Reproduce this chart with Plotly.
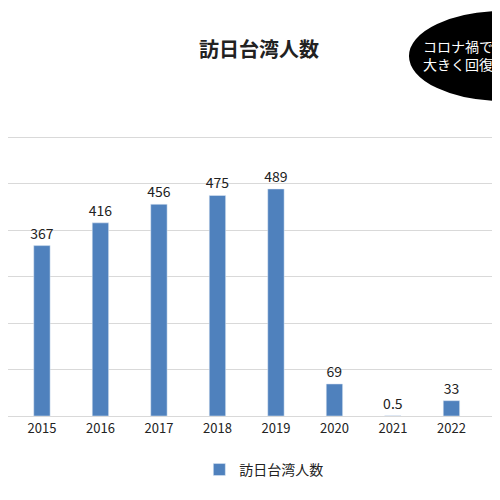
import plotly.graph_objects as go

years = [2014, 2015, 2016, 2017, 2018, 2019, 2020, 2021, 2022, 2023]
visitors = [283, 367, 416, 456, 475, 489, 69, 0.5, 33, 420]
labels = ["283", "367", "416", "456", "475", "489", "69", "0.5", "33", "420"]

fig = go.Figure()
fig.add_trace(go.Bar(
    x=years, y=visitors, name="訪日台湾人数", width=0.28,
    marker_color="#4F81BD", text=labels, textposition="outside",
    constraintext="none",
    textfont=dict(size=14, color="#222"), cliponaxis=False,
))
fig.update_layout(
    width=492, height=492,
    margin=dict(l=0, r=0, t=83, b=84),
    paper_bgcolor="white", plot_bgcolor="white",
    font=dict(family="Noto Sans CJK JP", color="#333"),
    title=dict(text="<b>訪日台湾人数</b>", x=0.51, xanchor="center", y=0.915, yanchor="middle",
               font=dict(size=20, color="#222")),
    xaxis=dict(range=[2014.42, 2022.83], tickmode="array", tickvals=years,
               ticktext=[str(y) for y in years], tickfont=dict(size=13, color="#222"),
               showgrid=False, showline=True, linecolor="#d9d9d9", ticks=""),
    yaxis=dict(range=[0, 700], dtick=100, showticklabels=False,
               gridcolor="#d9d9d9", zeroline=False),
    showlegend=True,
    legend=dict(orientation="h", x=0.52, xanchor="center", y=-0.166, yanchor="middle",
                font=dict(size=14, color="#222")),
)
fig.add_shape(type="circle", xref="paper", yref="paper",
              x0=0.817, x1=1.2, y0=0.972, y1=1.243,
              fillcolor="black", line=dict(color="black"))
fig.add_annotation(xref="paper", yref="paper", x=0.915, y=1.11,
                   text="コロナ禍で<br>大きく回復", showarrow=False,
                   font=dict(size=14, color="white"), align="center",
                   xanchor="center", yanchor="middle")
fig.write_html("out.html")
